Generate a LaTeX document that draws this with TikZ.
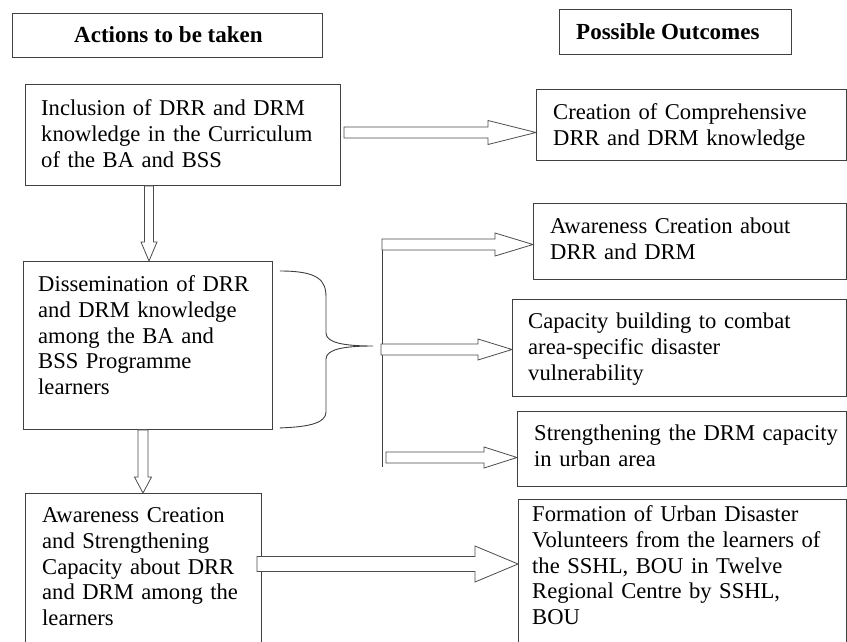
\documentclass[tikz,border=0pt]{standalone}
\usepackage{fontspec}
\setmainfont{Liberation Serif}
\usetikzlibrary{calc}
\tikzset{
  box/.style={draw=black!75, line width=0.9pt, rectangle, inner sep=0pt, anchor=north west, fill=white},
  txt/.style={anchor=north west, inner sep=0pt, align=left, text width=340pt, yshift=17.8pt,
              font=\fontsize{22.6}{25.8}\selectfont},
  hdr/.style={anchor=base west, inner sep=0pt, font=\fontsize{23}{25.8}\selectfont\bfseries},
  blk/.style={draw=black!70, line width=0.8pt, fill=white, line join=miter},
  thin/.style={draw=black!75, line width=0.9pt}
}
\newcommand\harr[5]{%
  \draw[blk] let \p1=(#1), \p2=(#2) in
    (\x1,\y2+#3pt) -- (\x2-#5pt,\y2+#3pt) -- (\x2-#5pt,\y2+#4pt) -- (\p2)
    -- (\x2-#5pt,\y2-#4pt) -- (\x2-#5pt,\y2-#3pt) -- (\x1,\y2-#3pt) -- cycle;}
\newcommand\varr[5]{%
  \draw[blk] let \p1=(#1), \p2=(#2) in
    (\x2+#3pt,\y1) -- (\x2+#3pt,\y2+#5pt) -- (\x2+#4pt,\y2+#5pt) -- (\p2)
    -- (\x2-#4pt,\y2+#5pt) -- (\x2-#3pt,\y2+#5pt) -- (\x2-#3pt,\y1) -- cycle;}
\begin{document}
\begin{tikzpicture}[x=1pt,y=-1pt]
\useasboundingbox (0,0) rectangle (847,642);
\fill[white] (0,0) rectangle (847,642);

% headers
\node[box, minimum width=310pt, minimum height=44pt] (hA) at (12,13) {};
\node[hdr] (hAt) at (74,43) {Actions to be taken};
\node[box, minimum width=232pt, minimum height=45pt] (hB) at (559,9) {};
\node[hdr] (hBt) at (576,40) {Possible Outcomes};

% boxes
\node[box, minimum width=315pt, minimum height=101pt] (inc) at (25,84) {};
\node[txt] (inct) at (41,115) {\strut Inclusion of DRR and DRM\\knowledge in the Curriculum\\of the BA and BSS};

\node[box, minimum width=310pt, minimum height=71pt] (cre) at (536,89) {};
\node[txt] (cret) at (553,119) {\strut Creation of Comprehensive\\DRR and DRM knowledge};

\node[box, minimum width=249pt, minimum height=168pt] (dis) at (23,261) {};
\node[txt] (dist) at (38,291) {\strut Dissemination of DRR\\and DRM knowledge\\among the BA and\\BSS Programme\\learners};

\node[box, minimum width=313pt, minimum height=76pt] (awr) at (533,203) {};
\node[txt] (awrt) at (550,233) {\strut Awareness Creation about\\DRR and DRM};

\node[box, minimum width=334pt, minimum height=97pt] (cap) at (512,299) {};
\node[txt] (capt) at (528,328) {\strut Capacity building to combat\\area-specific disaster\\vulnerability};

\node[box, minimum width=329pt, minimum height=75pt] (str) at (517,411) {};
\node[txt] (strt) at (534,440) {\strut Strengthening the DRM capacity\\in urban area};

\node[box, minimum width=236pt, minimum height=160pt] (awl) at (25,493) {};
\node[txt] (awlt) at (42,522) {\strut Awareness Creation\\and Strengthening\\Capacity about DRR\\and DRM among the\\learners};

\node[box, minimum width=328pt, minimum height=155pt] (frm) at (518,499) {};
\node[txt] (frmt) at (532,521) {\strut Formation of Urban Disaster\\Volunteers from the learners of\\the SSHL, BOU in Twelve\\Regional Centre by SSHL,\\BOU};

% connector coordinates
\coordinate (a1t) at ($(cre.north west)+(0,43.5)$);
\coordinate (a1s) at ($(inc.north east |- a1t)+(3,0)$);
\coordinate (bt) at ($(dis.north west)+(126,0)$);
\coordinate (bs) at (bt |- inc.south);
\coordinate (ct) at ($(awl.north west)+(118,0)$);
\coordinate (cs) at (ct |- dis.south);
\coordinate (vtop) at (382,239);
\coordinate (vbot) at (382,467);
\coordinate (t1t) at ($(awr.north west)+(0,41.5)$);
\coordinate (t1s) at (vtop |- t1t);
\coordinate (t2t) at ($(cap.north west)+(0,50.5)$);
\coordinate (t2s) at ($(vtop |- t2t)+(-1,0)$);
\coordinate (t3t) at ($(str.north west)+(0,46.5)$);
\coordinate (t3s) at ($(vtop |- t3t)+(4,0)$);
\coordinate (dt) at ($(frm.north west)+(0,65)$);
\coordinate (ds) at ($(awl.north east |- dt)+(-5,0)$);

% brace
\coordinate (brT) at ($(dis.north east)+(7,10)$);
\coordinate (brB) at ($(dis.south east)+(7,-2)$);
\coordinate (brTip) at (373,346);
\draw[thin] (brT) .. controls (318,271) and (326,280) .. (326,297) -- (326,333)
  .. controls (326,343) and (345,346) .. (brTip)
  .. controls (345,346) and (326,349) .. (326,359) -- (326,412)
  .. controls (326,422) and (312,427) .. (brB);

% arrows
\harr{a1s}{a1t}{5.5}{12}{48}
\varr{bs}{bt}{4.5}{8}{19}
\varr{cs}{ct}{5}{8.5}{16}
\draw[thin] (vtop) -- (vbot);
\harr{t1s}{t1t}{5.5}{11.5}{38}
\harr{t2s}{t2t}{5.5}{10.5}{34}
\harr{t3s}{t3t}{5.5}{10.5}{33}
\harr{ds}{dt}{7.5}{18}{43}
\end{tikzpicture}
\end{document}
